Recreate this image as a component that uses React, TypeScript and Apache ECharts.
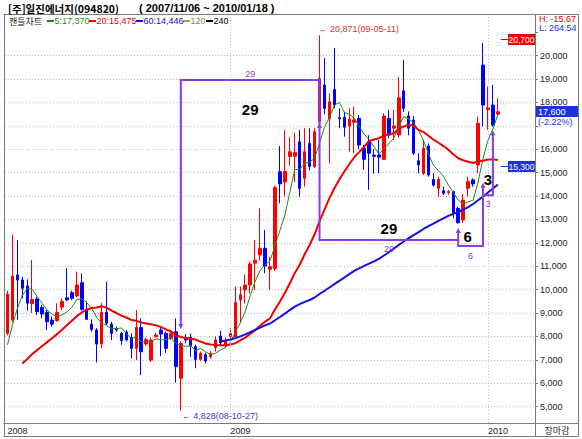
import React, { useEffect, useRef } from 'react';
import * as echarts from 'echarts';

const FONT = '"Liberation Sans", Arial, sans-serif';
const FONT_KR = '"Noto Sans CJK KR", "Liberation Sans", sans-serif';

// closes of the weeks before the visible window (2007-11-05 .. 2008-02-18), used only for the moving averages
const priorCloses = [5600, 5400, 5700, 5500, 5300, 5200, 5500, 5800, 5600, 5900, 6200, 6000, 6400, 6800, 7300, 7900];

// weekly [open, close, low, high] from 2008-02-25 to 2010-01-18
const candles: number[][] = [
  [8130, 9810, 8050, 9950], [8700, 10580, 8600, 12340], [10630, 10410, 8700, 12120], [10410, 10060, 9630, 10550],
  [10160, 9420, 9100, 10440], [9400, 9580, 9000, 11270], [9600, 9060, 8920, 9700], [9240, 8960, 8770, 9350],
  [9030, 8630, 8280, 9130], [8700, 8520, 8420, 8850], [8680, 9020, 8620, 9420], [9250, 9500, 9130, 9630],
  [9650, 9560, 9500, 10920], [9870, 9630, 9560, 9950], [9730, 10200, 9670, 10770], [10300, 9160, 9100, 10700],
  [9160, 8730, 8700, 9490], [8530, 8300, 8200, 8730], [8280, 7680, 6880, 8350], [7680, 9030, 7490, 9420],
  [9030, 8560, 8490, 10340], [8530, 8130, 7850, 8630], [8330, 8280, 8200, 8420], [8130, 7820, 7640, 8200],
  [8190, 7850, 7780, 8280], [7960, 7490, 7060, 8130], [7490, 8390, 6990, 9130], [8380, 7350, 6350, 8770],
  [7680, 7870, 7600, 7950], [6990, 7850, 6900, 7950], [7990, 8060, 7950, 8150], [8270, 8100, 7160, 8420],
  [8130, 7490, 7300, 8200], [7920, 8130, 7850, 8250], [8200, 6710, 6020, 8770], [6210, 7700, 4828, 7800],
  [7960, 7850, 7700, 8100], [7960, 7610, 7130, 8130], [7560, 7020, 6640, 7650], [7020, 7280, 6950, 7350],
  [7220, 6950, 6850, 7300], [7130, 7280, 7050, 7380], [7520, 7850, 7350, 8000], [8020, 7720, 7600, 8250],
  [7600, 7800, 7500, 7950], [8000, 8130, 7900, 8350], [8000, 9450, 7900, 10130], [9560, 9780, 8600, 10130],
  [9990, 10200, 9410, 10620], [10200, 11100, 9840, 11200], [11130, 11260, 9980, 12120], [11480, 11770, 11250, 13470],
  [11770, 11010, 10700, 12550], [10870, 10980, 9980, 11400], [10900, 14360, 10800, 14450], [15040, 14520, 13690, 16140],
  [14600, 15050, 13970, 16820], [15690, 15890, 15300, 16520], [15700, 15860, 14600, 16700], [16320, 14330, 13970, 16820],
  [14760, 15900, 14400, 16900], [16250, 15260, 15100, 16900], [15260, 16750, 15200, 16900], [17180, 19030, 17000, 20871],
  [18750, 17750, 17500, 19900], [17320, 18030, 15400, 18390], [18560, 17890, 17750, 20330], [17350, 17300, 16900, 17750],
  [17365, 16940, 16540, 17600], [16995, 17290, 15900, 17750], [17150, 17250, 15830, 17820], [17320, 16180, 16000, 17470],
  [16040, 15570, 15120, 16180], [16330, 15830, 14260, 16600], [15750, 15700, 14960, 16000], [15760, 15660, 14970, 16400],
  [15570, 17420, 15540, 17540], [17320, 16610, 16470, 17680], [16900, 17000, 16400, 17680], [16610, 18200, 16500, 19090],
  [18500, 17750, 17600, 19820], [17420, 16900, 16600, 17620], [17250, 15830, 15750, 17420], [15510, 15330, 14970, 15830],
  [14970, 16040, 14900, 16400], [16140, 14900, 14830, 16250], [14710, 14470, 14400, 14970], [14330, 14710, 13970, 14830],
  [14230, 14120, 14050, 14400], [14150, 14190, 14050, 14260], [14190, 13260, 13050, 14230], [13475, 12860, 12830, 13550],
  [12980, 13830, 12860, 14090], [14330, 14620, 13970, 14830], [14690, 14520, 14400, 14760], [15330, 17110, 14970, 17390],
  [19600, 17890, 16970, 20530], [17700, 17780, 16830, 18680], [17890, 17040, 16970, 18750], [17500, 17600, 17470, 18180],
];

const padWeeks = 7;
const yearMarks = ['2008', '2009', '2010'];
const yearMarkIdx = [0, 45, 97];
const maPeriods = [5, 20, 60];
const maColors = ['#1f8a1f', '#f00000', '#1010e0'];
const legendItems = ['5:17,370', '20:15,475', '60:14,446', '120', '240'];
const legendColors = ['#1f8a1f', '#f00000', '#1010e0', '#a0a060', '#000000'];
const lastPrice = 17600;
const lastPriceText = '17,600';
const lastChangeText = '(-2.22%)';
const hlTexts = ['H: -15.67', 'L: 264.54'];
const priceMarks = [
  { value: 20700, text: '20,700', color: '#ee0000' },
  { value: 15300, text: '15,300', color: '#1a33dd' },
];
const highMark = { idx: 63, value: 20871, text: '← 20,871(09-05-11)' };
const lowMark = { idx: 35, value: 4828, text: '← 4,828(08-10-27)' };
// cycle boxes: week indexes (visible), base levels, counts
const cycleIdx = [35, 63, 91, 96, 98];
const cycleLevels = [18960, 12120, 11870, 14040];
const cycleCounts = ['29', '29', '6', '3'];
const cycleStart = 8490;
const cycleEnds = [12460, 14400, 16640];

const categories = Array.from({ length: candles.length + padWeeks }, (_, i) =>
  new Date(Date.UTC(2008, 1, 25) + i * 7 * 86400000).toISOString().slice(0, 10)
);

const allCloses = priorCloses.concat(candles.map((c) => c[1]));
const movingAverage = (n: number) =>
  candles.map((_, j) => {
    const i = j + priorCloses.length;
    if (i < n - 1) return '-';
    let s = 0;
    for (let k = i - n + 1; k <= i; k++) s += allCloses[k];
    return Math.round(s / n);
  });

const W = 582;
const H = 439;
const PURPLE = '#8a3ce0';

export default function App() {
  const ref = useRef<HTMLDivElement>(null);
  useEffect(() => {
    document.body.style.margin = '0';
    const chart = echarts.init(ref.current!, null, { renderer: 'svg', width: W, height: H });
    const option: any = {
      animation: false,
      backgroundColor: '#ffffff',
      grid: { left: 5, right: 47, top: 14, bottom: 16, containLabel: false },
      xAxis: {
        type: 'category',
        data: categories,
        boundaryGap: true,
        axisLine: { show: false },
        axisTick: { show: false },
        splitLine: { show: false },
        axisLabel: {
          interval: (i: number) => yearMarkIdx.includes(i),
          formatter: (v: string) => {
            const k = yearMarkIdx.indexOf(categories.indexOf(v));
            return k >= 0 ? yearMarks[k] : '';
          },
          align: 'left',
          margin: 3,
          fontSize: 9,
          color: '#222',
          fontFamily: FONT,
        },
      },
      yAxis: {
        type: 'value',
        position: 'right',
        min: 4300,
        max: 21782,
        splitNumber: 17,
        minInterval: 1000,
        maxInterval: 1000,
        scale: true,
        axisLine: { show: false },
        axisTick: { show: true, length: 3, lineStyle: { color: '#777' } },
        axisLabel: {
          showMinLabel: false,
          showMaxLabel: false,
          margin: 5,
          fontSize: 9,
          color: '#222',
          fontFamily: FONT,
          formatter: (v: number) => (v === 17000 || v >= 21000 ? '' : v.toLocaleString('en-US')),
        },
        splitLine: { show: true, lineStyle: { color: '#bdbdbd', type: [1, 2], width: 1 } },
      },
      series: [
        {
          type: 'candlestick',
          data: candles,
          barWidth: 3,
          z: 2,
          itemStyle: { color: '#ff0000', color0: '#0000ff', borderColor: '#ff0000', borderColor0: '#0000ff', borderWidth: 1 },
        },
        ...maPeriods.map((n, k) => ({
          type: 'line',
          data: movingAverage(n),
          showSymbol: false,
          symbol: 'none',
          z: 3 + k,
          lineStyle: { color: maColors[k], width: n === 5 ? 1 : 2 },
          ...(k === 0
            ? {
                markLine: {
                  silent: true,
                  symbol: ['none', 'none'],
                  label: { show: false },
                  lineStyle: { color: '#c4c4c4', type: [1, 2], width: 1 },
                  data: yearMarkIdx.slice(1).map((i) => ({ xAxis: categories[i] })),
                },
              }
            : {}),
        })),
      ],
    };
    chart.setOption(option);

    const P = (i: number, v: number) => chart.convertToPixel({ xAxisIndex: 0, yAxisIndex: 0 }, [i, v]) as number[];
    const g: any[] = [];
    const text = (x: number, y: number, t: string, fill: string, opts: any = {}) =>
      g.push({
        type: 'text',
        x,
        y,
        z: 50,
        style: {
          text: t,
          fill,
          font: opts.font || `9px ${FONT}`,
          textAlign: opts.align || 'left',
          textVerticalAlign: 'middle',
        },
      });
    const line = (x1: number, y1: number, x2: number, y2: number, stroke: string, lw = 1, z = 40) =>
      g.push({ type: 'line', z, shape: { x1, y1, x2, y2 }, style: { stroke, lineWidth: lw } });

    // hide the 21,000 grid line (not drawn in the original)
    const y21 = P(0, 21000)[1];
    g.push({ type: 'rect', z: 1, shape: { x: 5.5, y: y21 - 1.5, width: 529, height: 3 }, style: { fill: '#fff' } });

    // frame
    const FR = '#7a7a7a';
    line(3.5, 14.5, 578.5, 14.5, FR);
    line(3.5, 423.5, 578.5, 423.5, FR);
    line(3.5, 436.5, 578.5, 436.5, FR);
    line(4.5, 14.5, 4.5, 436.5, FR);
    line(535.5, 14.5, 535.5, 436.5, FR);
    line(578.5, 14.5, 578.5, 436.5, FR);

    // title
    text(8, 8, '[주]일진에너지(094820)', '#000', { font: `bold 10.5px ${FONT_KR}` });
    text(139, 8, '( 2007/11/06 ~ 2010/01/18 )', '#000', { font: `bold 11px ${FONT}` });

    // legend
    text(9, 21, '캔들차트', '#222', { font: `9px ${FONT_KR}` });
    const legX = [47, 89, 136, 183, 206];
    legendItems.forEach((t, k) => {
      line(legX[k], 21, legX[k] + 7, 21, legendColors[k], 2);
      text(legX[k] + 7.5, 21, t, legendColors[k] === '#a0a060' ? '#8a8a50' : legendColors[k]);
    });

    // H / L
    text(539, 19, hlTexts[0], '#e00000');
    text(539, 28, hlTexts[1], '#1a33dd');

    // high / low marks
    const ph = P(highMark.idx, highMark.value);
    text(ph[0] - 1, ph[1] - 6, highMark.text, '#e03030');
    const pl = P(lowMark.idx, lowMark.value);
    text(pl[0] + 1, pl[1] + 5, lowMark.text, '#3a3ad0');

    // price marks at the right
    const lastX = P(candles.length - 1, 0)[0];
    priceMarks.forEach((m) => {
      const y = Math.round(P(0, m.value)[1]) + 0.5;
      line(lastX + 3, y, 509, y, m.color, 1);
      g.push({ type: 'rect', z: 45, shape: { x: 508, y: y - 5.5, width: 27, height: 11 }, style: { fill: m.color } });
      text(534.5, y + 0.5, m.text, '#fff', { align: 'right', font: `8.5px ${FONT}` });
    });
    const yl = Math.round(P(0, lastPrice)[1]);
    g.push({ type: 'rect', z: 45, shape: { x: 536, y: yl - 6, width: 42, height: 11 }, style: { fill: '#1a33dd' } });
    text(538, yl - 0.5, lastPriceText, '#fff');
    text(538, yl + 10, lastChangeText, '#1a33dd');

    // bottom-right cell
    text(557, 430, '장마감', '#222', { font: `9px ${FONT_KR}`, align: 'center' });

    // cycle boxes
    const pts = (arr: number[][]) => arr.map(([i, v]) => P(i, v));
    const poly = (arr: number[][]) =>
      g.push({ type: 'polyline', z: 30, shape: { points: pts(arr) }, style: { stroke: PURPLE, lineWidth: 2, fill: null } });
    const arrow = (i: number, v: number, dir: number) => {
      const [x, y] = P(i, v);
      g.push({
        type: 'polygon',
        z: 31,
        shape: { points: [[x - 2.5, y + dir * 1], [x + 2.5, y + dir * 1], [x, y - dir * 4]] },
        style: { fill: PURPLE },
      });
    };
    const [a, b, c, d, e] = cycleIdx;
    poly([[a, cycleStart], [a, cycleLevels[0]], [b, cycleLevels[0]], [b, cycleLevels[1]], [c, cycleLevels[1]], [c, cycleEnds[0]]]);
    poly([[c, cycleLevels[1]], [c, cycleLevels[2]], [d, cycleLevels[2]], [d, cycleEnds[1]]]);
    poly([[d, cycleLevels[3]], [e, cycleLevels[3]], [e, cycleEnds[2]]]);
    arrow(a, cycleStart, -1);
    arrow(c, cycleEnds[0], 1);
    arrow(d, cycleEnds[1], 1);
    arrow(e, cycleEnds[2], 1);
    arrow(b, 16950, 1);

    const mid = (i1: number, i2: number, v: number) => {
      const p1 = P(i1, v);
      const p2 = P(i2, v);
      return [(p1[0] + p2[0]) / 2, p1[1]];
    };
    const big = `bold 15px ${FONT}`;
    let m = mid(a, b, cycleLevels[0]);
    text(m[0], m[1] - 6, cycleCounts[0], PURPLE, { align: 'center' });
    text(m[0], m[1] + 29, cycleCounts[0], '#000', { align: 'center', font: big });
    m = mid(b, c, cycleLevels[1]);
    text(m[0], m[1] + 9, cycleCounts[1], PURPLE, { align: 'center' });
    text(m[0], m[1] - 12, cycleCounts[1], '#000', { align: 'center', font: big });
    m = mid(c, d, cycleLevels[2]);
    text(m[0], m[1] + 10, cycleCounts[2], PURPLE, { align: 'center' });
    text(m[0] - 3, m[1] - 9, cycleCounts[2], '#000', { align: 'center', font: big });
    m = mid(d, e, cycleLevels[3]);
    text(m[0], m[1] + 9, cycleCounts[3], PURPLE, { align: 'center' });
    text(m[0], m[1] - 16, cycleCounts[3], '#000', { align: 'center', font: big });

    chart.setOption({ graphic: { elements: g } });
    return () => chart.dispose();
  }, []);
  return <div ref={ref} style={{ width: W, height: H }} />;
}
